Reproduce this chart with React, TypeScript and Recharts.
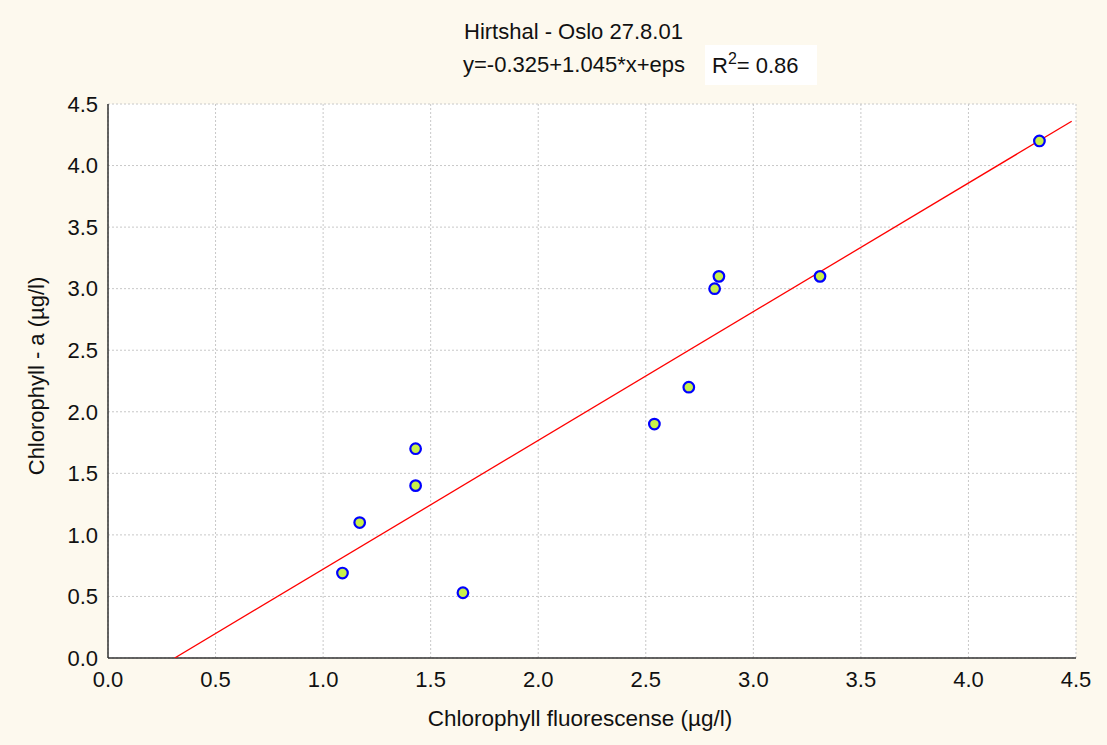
import React from "react";
import {
  ScatterChart,
  Scatter,
  XAxis,
  YAxis,
  CartesianGrid,
} from "recharts";

// measured samples (chlorophyll fluorescence vs chlorophyll-a)
const fluorescence = [1.09, 1.17, 1.43, 1.43, 1.65, 2.54, 2.7, 2.82, 2.84, 3.31, 4.33];
const chlorophyllA = [0.69, 1.1, 1.4, 1.7, 0.53, 1.9, 2.2, 3.0, 3.1, 3.1, 4.2];

// end points of the fitted line as drawn
const fitX = [0.31, 4.48];
const fitY = [0.0, 4.36];

const majorTicks = [0, 0.5, 1, 1.5, 2, 2.5, 3, 3.5, 4, 4.5];
const minorTicks = majorTicks.flatMap((t) =>
  t < 4.5 ? [t, t + 0.1, t + 0.2, t + 0.3, t + 0.4] : [t]
);

const title = "Hirtshal - Oslo 27.8.01";
const equation = "y=-0.325+1.045*x+eps";
const rSquared = "0.86";
const xLabel = "Chlorophyll fluorescense (µg/l)";
const yLabel = "Chlorophyll - a (µg/l)";

const points = fluorescence.map((x, i) => ({ x, y: chlorophyllA[i] }));
const fitLine = fitX.map((x, i) => ({ x, y: fitY[i] }));

const FONT = '"Liberation Sans", Arial, sans-serif';
const FRAME = "#333";
const tickStyle = { fontSize: 22, fill: "#111", fontFamily: FONT };

const Dot = (props: any) => (
  <circle
    cx={props.cx}
    cy={props.cy}
    r={5.3}
    fill="#c8f04a"
    stroke="#0000ff"
    strokeWidth={2.2}
  />
);

export default function App() {
  return (
    <div
      style={{
        position: "absolute",
        left: 0,
        top: 0,
        width: 1107,
        height: 745,
        background: "#fdf9ee",
        fontFamily: FONT,
        color: "#111",
      }}
    >
      <div style={{ position: "absolute", left: 464, top: 19, fontSize: 22, whiteSpace: "nowrap" }}>
        {title}
      </div>
      <div style={{ position: "absolute", left: 463, top: 52, fontSize: 22, whiteSpace: "nowrap" }}>
        {equation}
      </div>
      <div
        style={{
          position: "absolute",
          left: 705,
          top: 45,
          width: 112,
          height: 40,
          background: "#fff",
          fontSize: 22,
          whiteSpace: "nowrap",
          boxSizing: "border-box",
          paddingLeft: 7,
          paddingTop: 8,
          lineHeight: "26px",
        }}
      >
        R<sup style={{ fontSize: 16, verticalAlign: "9px", lineHeight: 0 }}>2</sup>= {rSquared}
      </div>

      <ScatterChart
        width={1107}
        height={745}
        margin={{ top: 104, right: 31, left: 48, bottom: 47 }}
        style={{ position: "absolute", left: 0, top: 0 }}
      >
        <CartesianGrid
          fill="#ffffff"
          stroke="#c8c8c8"
          strokeDasharray="2 2"
        />
        <XAxis
          type="number"
          dataKey="x"
          domain={[0, 4.5]}
          ticks={majorTicks}
          tickFormatter={(v: number) => v.toFixed(1)}
          allowDataOverflow
          height={40}
          tickLine={false}
          tickSize={6}
          tickMargin={7}
          axisLine={{ stroke: FRAME, strokeWidth: 1.5 }}
          tick={tickStyle}
          interval={0}
        />
        <YAxis
          type="number"
          dataKey="y"
          domain={[0, 4.5]}
          ticks={majorTicks}
          tickFormatter={(v: number) => v.toFixed(1)}
          allowDataOverflow
          width={60}
          tickLine={false}
          tickSize={6}
          tickMargin={4}
          axisLine={{ stroke: FRAME, strokeWidth: 1.5 }}
          tick={tickStyle}
          interval={0}
        />
        {/* inward minor ticks on all four sides */}
        <XAxis
          xAxisId="bottomTicks"
          type="number"
          domain={[0, 4.5]}
          ticks={minorTicks}
          allowDataOverflow
          mirror
          height={0}
          tick={false}
          tickSize={5}
          tickLine={{ stroke: FRAME }}
          axisLine={false}
          interval={0}
        />
        <XAxis
          xAxisId="topTicks"
          orientation="top"
          type="number"
          domain={[0, 4.5]}
          ticks={minorTicks}
          allowDataOverflow
          mirror
          height={0}
          tick={false}
          tickSize={5}
          tickLine={{ stroke: FRAME }}
          axisLine={{ stroke: FRAME, strokeWidth: 1.5 }}
          interval={0}
        />
        <YAxis
          yAxisId="leftTicks"
          type="number"
          domain={[0, 4.5]}
          ticks={minorTicks}
          allowDataOverflow
          mirror
          width={0}
          tick={false}
          tickSize={5}
          tickLine={{ stroke: FRAME }}
          axisLine={false}
          interval={0}
        />
        <YAxis
          yAxisId="rightTicks"
          orientation="right"
          type="number"
          domain={[0, 4.5]}
          ticks={minorTicks}
          allowDataOverflow
          mirror
          width={0}
          tick={false}
          tickSize={5}
          tickLine={{ stroke: FRAME }}
          axisLine={{ stroke: FRAME, strokeWidth: 1.5 }}
          interval={0}
        />
        <Scatter
          data={fitLine}
          line={{ stroke: "#ff0000", strokeWidth: 1.3 }}
          shape={() => <g />}
          isAnimationActive={false}
        />
        <Scatter data={points} shape={Dot} isAnimationActive={false} />
      </ScatterChart>

      <div
        style={{
          position: "absolute",
          left: 580,
          top: 706,
          transform: "translateX(-50%)",
          fontSize: 22.5,
          whiteSpace: "nowrap",
        }}
      >
        {xLabel}
      </div>
      <div
        style={{
          position: "absolute",
          left: 37,
          top: 376,
          transform: "translate(-50%, -50%) rotate(-90deg)",
          fontSize: 22,
          whiteSpace: "nowrap",
        }}
      >
        {yLabel}
      </div>
    </div>
  );
}
